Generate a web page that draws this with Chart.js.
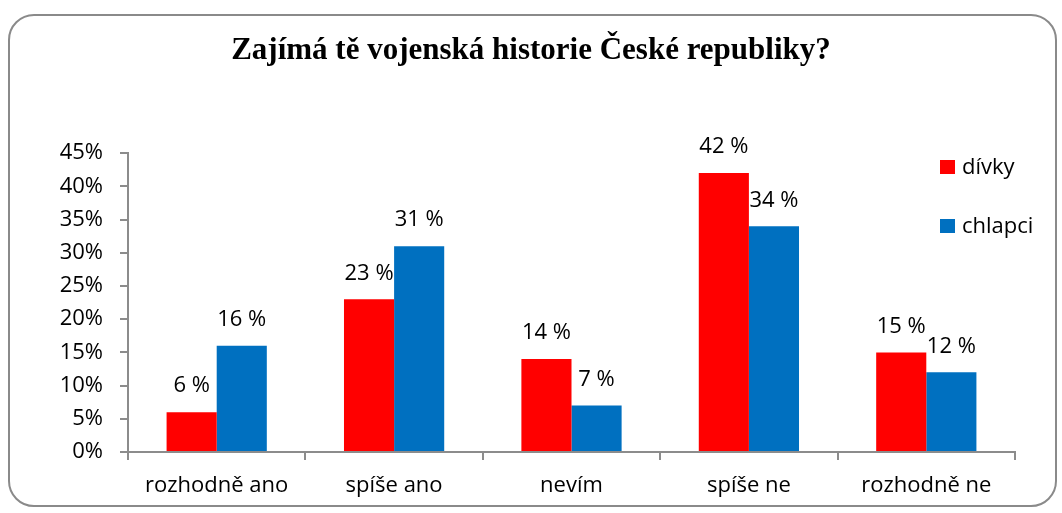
<!DOCTYPE html>
<html>
<head>
<meta charset="utf-8">
<script src="https://cdn.jsdelivr.net/npm/chart.js@4.4.1/dist/chart.umd.min.js"></script>
<style>
    body { margin: 0; background: #ffffff; }
    #frame {
        position: absolute; left: 8px; top: 14px; width: 1045px; height: 489px;
        border: 2px solid #8a8a8a; border-radius: 26px;
    }
    #wrap { position: absolute; left: 0; top: 0; width: 1062px; height: 513px; }
</style>
</head>
<body>
<div id="frame"></div>
<div id="wrap"><canvas id="chart" width="1062" height="513"></canvas></div>
<script>
    // data
    const categories = ['rozhodně ano', 'spíše ano', 'nevím', 'spíše ne', 'rozhodně ne'];
    const divky = [6, 23, 14, 42, 15];
    const chlapci = [16, 31, 7, 34, 12];
    const seriesNames = ['dívky', 'chlapci'];
    const seriesColors = ['#ff0000', '#0070c0'];

    const labelFont = '22px "Open Sans"';

    // popisky hodnot nad sloupci
    const valueLabels = {
        id: 'valueLabels',
        afterDatasetsDraw(chart) {
            const ctx = chart.ctx;
            ctx.save();
            ctx.font = labelFont;
            ctx.fillStyle = '#000000';
            ctx.textAlign = 'center';
            ctx.textBaseline = 'middle';
            chart.data.datasets.forEach((ds, i) => {
                chart.getDatasetMeta(i).data.forEach((bar, j) => {
                    ctx.fillText(ds.data[j] + ' %', bar.x, bar.y - 26);
                });
            });
            ctx.restore();
        }
    };

    // legenda vpravo nahore
    const sideLegend = {
        id: 'sideLegend',
        afterDraw(chart) {
            const ctx = chart.ctx;
            ctx.save();
            ctx.font = labelFont;
            ctx.textBaseline = 'middle';
            chart.data.datasets.forEach((ds, i) => {
                const y = 167 + i * 59;
                ctx.fillStyle = ds.backgroundColor;
                ctx.fillRect(940, y - 7, 15, 14);
                ctx.fillStyle = '#000000';
                ctx.fillText(ds.label, 962, y + 1);
            });
            ctx.restore();
        }
    };

    new Chart(document.getElementById('chart'), {
        type: 'bar',
        data: {
            labels: categories,
            datasets: [
                { label: seriesNames[0], data: divky, backgroundColor: seriesColors[0] },
                { label: seriesNames[1], data: chlapci, backgroundColor: seriesColors[1] }
            ]
        },
        options: {
            responsive: false,
            animation: false,
            layout: { padding: { left: 47, right: 47, bottom: 14 } },
            datasets: { bar: { categoryPercentage: 0.565, barPercentage: 1.0 } },
            plugins: {
                legend: { display: false },
                tooltip: { enabled: false },
                title: {
                    display: true,
                    text: 'Zajímá tě vojenská historie České republiky?',
                    color: '#000000',
                    font: { family: '"Liberation Serif", "Times New Roman", serif', size: 31, weight: 'bold' },
                    padding: { top: 32, bottom: 84 }
                }
            },
            scales: {
                x: {
                    afterFit(scale) { scale.height = 47; },
                    grid: { drawOnChartArea: false, drawTicks: true, tickLength: 8, color: '#8c8c8c', lineWidth: 2 },
                    border: { color: '#8c8c8c', width: 2 },
                    ticks: { color: '#000000', font: { family: 'Open Sans', size: 22 }, padding: 13 }
                },
                y: {
                    min: 0,
                    max: 45,
                    afterFit(scale) { scale.width = 81; },
                    grid: { drawOnChartArea: false, drawTicks: true, tickLength: 8, color: '#8c8c8c', lineWidth: 2 },
                    border: { color: '#8c8c8c', width: 2 },
                    ticks: {
                        stepSize: 5,
                        color: '#000000',
                        font: { family: 'Open Sans', size: 22 },
                        padding: 17,
                        callback: v => v + '%'
                    }
                }
            }
        },
        plugins: [valueLabels, sideLegend]
    });
</script>
</body>
</html>
